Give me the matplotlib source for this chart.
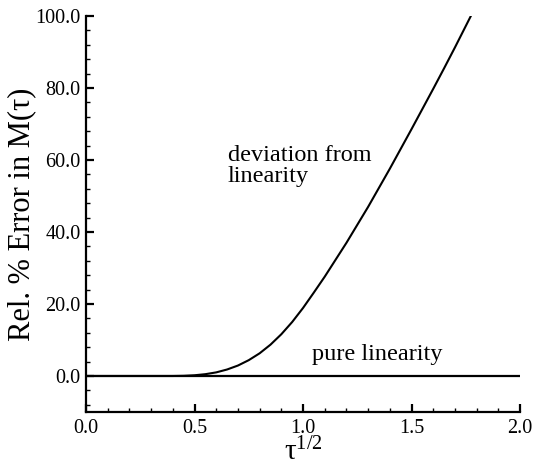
import matplotlib
matplotlib.use('Agg')
import matplotlib.pyplot as plt
from matplotlib.ticker import MultipleLocator, FormatStrFormatter

plt.rcParams['font.family'] = ['Liberation Serif', 'DejaVu Serif']
plt.rcParams['mathtext.fontset'] = 'custom'
plt.rcParams['mathtext.rm'] = 'Liberation Serif'

# Отклонение от линейности
dev_x = [0.0, 0.40, 0.45, 0.50, 0.55, 0.60, 0.65, 0.70, 0.75, 0.80, 0.85,
         0.90, 0.95, 1.00, 1.05, 1.10, 1.15, 1.20, 1.25, 1.30, 1.35, 1.40,
         1.45, 1.50, 1.55, 1.60, 1.65, 1.70, 1.773]
dev_y = [0.0, 0.0, 0.05, 0.2, 0.5, 1.0, 1.8, 2.9, 4.4, 6.3, 8.7,
         11.6, 15.0, 18.9, 23.2, 27.6, 32.3, 37.0, 42.0, 47.0, 52.3, 57.6,
         63.1, 68.6, 74.2, 79.8, 85.5, 91.3, 100.0]

# Чистая линейность
lin_x = [0.0, 2.0]
lin_y = [0.0, 0.0]

fig = plt.figure(figsize=(5.34, 4.68), dpi=100)
ax = fig.add_axes([0.161, 0.1197, 0.813, 0.8461])

ax.plot(lin_x, lin_y, color='black', lw=1.6, solid_capstyle='butt')
ax.plot(dev_x, dev_y, color='black', lw=1.5)

ax.set_xlim(0, 2.0)
ax.set_ylim(-10, 100)

ax.spines['top'].set_visible(False)
ax.spines['right'].set_visible(False)
for s in ['left', 'bottom']:
    ax.spines[s].set_linewidth(1.6)

ax.xaxis.set_major_locator(MultipleLocator(0.5))
ax.xaxis.set_minor_locator(MultipleLocator(0.1))
ax.yaxis.set_major_locator(MultipleLocator(20))
ax.yaxis.set_minor_locator(MultipleLocator(4))
ax.xaxis.set_major_formatter(FormatStrFormatter('%.1f'))
ax.yaxis.set_major_formatter(FormatStrFormatter('%.1f'))

ax.tick_params(which='major', direction='in', length=6, width=1.6, labelsize=14.5)
ax.tick_params(which='minor', direction='in', length=3, width=1.0)
ax.tick_params(axis='x', which='major', pad=5)
ax.tick_params(axis='y', which='major', pad=4)

ax.set_xlabel('$\\mathregular{τ^{1/2}}$', fontsize=21, labelpad=0)
ax.set_ylabel('Rel. % Error in M(τ)', fontsize=22, labelpad=-1)

ax.text(0.654, 54.0, 'deviation from\nlinearity', fontsize=17.5,
        va='baseline', ha='left', linespacing=1.0)
ax.text(1.04, 4.4, 'pure linearity', fontsize=17.5, va='baseline', ha='left')

fig.savefig('out.png', dpi=100)
